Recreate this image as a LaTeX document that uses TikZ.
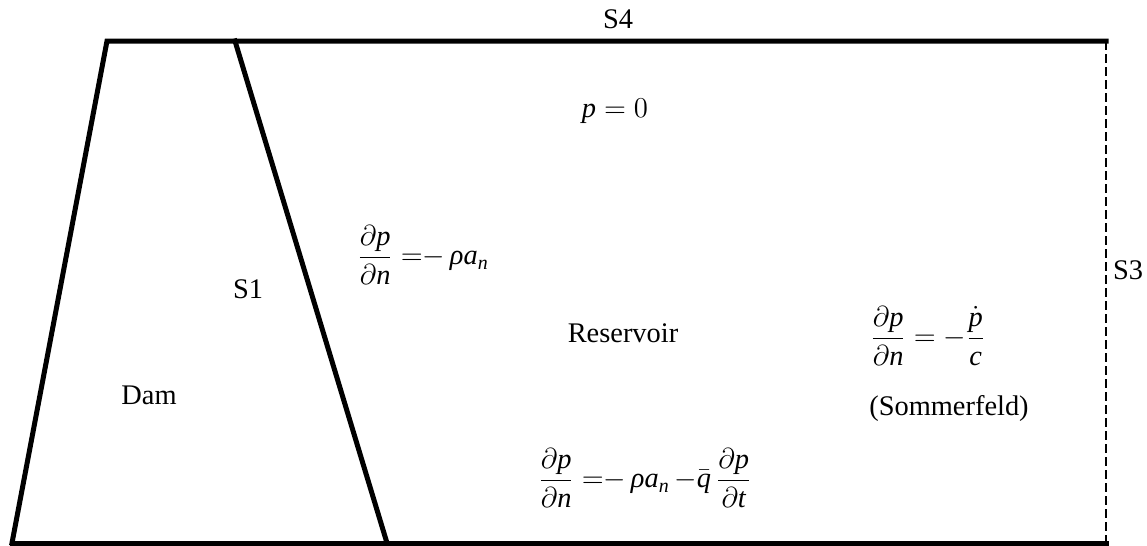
\documentclass[tikz,border=0pt]{standalone}
\usepackage{amsmath}
\usepackage{fontspec}
\setmainfont{Liberation Serif}
\newcommand\itx[1]{\textit{#1}}
\begin{document}
\begin{tikzpicture}[x=0.5pt,y=-0.5pt,
  wall/.style={line width=2.5pt,line join=miter,line cap=rect},
  openb/.style={line width=1.2pt,dash pattern=on 4.5pt off 2pt},
  lbl/.style={inner sep=0pt,font=\fontsize{14.2}{17}\selectfont},
  eqn/.style={inner sep=0pt,font=\fontsize{14.2}{17}\selectfont}]
\useasboundingbox (0,0) rectangle (1147,546);
\coordinate (bl) at (12,543);
\coordinate (tl) at (107,41);
\coordinate (s1t) at (235,41);
\coordinate (s1b) at (387,543);
\coordinate (tr) at (1106,41);
\coordinate (br) at (1106,543);
\draw[wall] (bl) -- (tl) -- (tr);
\draw[wall] (s1t) -- (s1b);
\draw[wall] (bl) -- (br);
\draw[openb] (tr) -- (br);
\node[lbl] (s4) at (618,19) {S4};
\node[lbl] (s3) at (1128,270) {S3};
\node[lbl] (s1) at (248,289) {S1};
\node[lbl] (dam) at (149,395) {Dam};
\node[lbl] (res) at (623,333) {Reservoir};
\node[lbl] (somm) at (949,409) {(Sommerfeld)};
\node[eqn] (p0) at (615,111) {$\itx{p} = 0$};
\node[eqn,anchor=west] (eq1) at (357,255) {$\displaystyle\frac{\partial\itx{p}}{\partial\itx{n}}\;{=}{-}\,\itx{ρ}\itx{a}_{\itx{n}}$};
\node[eqn,anchor=west] (eq2) at (870,336) {$\displaystyle\frac{\partial\itx{p}}{\partial\itx{n}}={-}\frac{\dot{\itx{p}}}{\itx{c}}$};
\node[eqn,anchor=west] (eq3) at (538,478) {$\displaystyle\frac{\partial\itx{p}}{\partial\itx{n}}\;{=}{-}\,\itx{ρ}\itx{a}_{\itx{n}}\,{-}\bar{\itx{q}}\,\frac{\partial\itx{p}}{\partial\itx{t}}$};
\end{tikzpicture}
\end{document}
